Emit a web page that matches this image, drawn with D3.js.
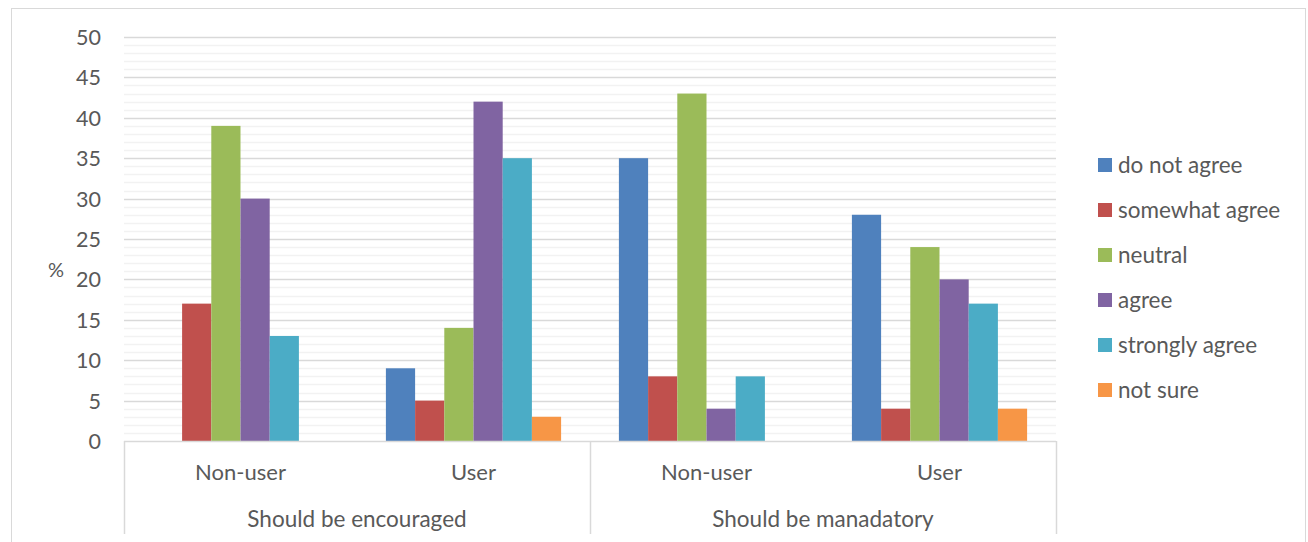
<!DOCTYPE html>
<html><head><meta charset="utf-8">
<script src="https://cdn.jsdelivr.net/npm/d3@7"></script>
<style>body{margin:0;background:#fff}svg{display:block}text{font-family:Lato,"Open Sans",sans-serif;fill:#595959}</style>
</head><body><svg id="c" width="1308" height="542"></svg>
<script>
const groups = ["Should be encouraged", "Should be manadatory"];
const subcats = ["Non-user", "User"];
const series = ["do not agree", "somewhat agree", "neutral", "agree", "strongly agree", "not sure"];
const colors = ["#4F81BD", "#C0504D", "#9BBB59", "#8064A2", "#4BACC6", "#F79646"];
const encNonUser = [0, 17, 39, 30, 13, 0];
const encUser = [9, 5, 14, 42, 35, 3];
const manNonUser = [35, 8, 43, 4, 8, 0];
const manUser = [28, 4, 24, 20, 17, 4];
const yTicks = [0, 5, 10, 15, 20, 25, 30, 35, 40, 45, 50];

const cats = [
  {g: groups[0], s: subcats[0], v: encNonUser},
  {g: groups[0], s: subcats[1], v: encUser},
  {g: groups[1], s: subcats[0], v: manNonUser},
  {g: groups[1], s: subcats[1], v: manUser}
];
const svg = d3.select("#c");
const L = 124, R = 1056, T = 37, B = 441;
svg.append("rect").attr("x", 11.5).attr("y", 8.5).attr("width", 1294).attr("height", 540)
  .attr("fill", "none").attr("stroke", "#d9d9d9");

const y = d3.scaleLinear().domain([0, 50]).range([B, T]);
const x0 = d3.scaleBand().domain(d3.range(cats.length)).range([L, R]).paddingInner(0).paddingOuter(0);
// minor grid
const minor = d3.range(1, 51).filter(d => d % 5 !== 0);
svg.append("g").selectAll("line").data(minor).join("line")
  .attr("x1", L).attr("x2", R).attr("y1", d => Math.round(y(d)) + 0.5).attr("y2", d => Math.round(y(d)) + 0.5)
  .attr("stroke", "#f2f2f2").attr("stroke-width", 1.5);
svg.append("g").selectAll("line").data(yTicks.slice(1)).join("line")
  .attr("x1", L).attr("x2", R).attr("y1", d => Math.round(y(d)) + 0.5).attr("y2", d => Math.round(y(d)) + 0.5)
  .attr("stroke", "#d9d9d9").attr("stroke-width", 1.5);

// y axis labels
const yAxis = d3.axisLeft(y).tickValues(yTicks).tickSize(0).tickPadding(0);
const ya = svg.append("g").attr("transform", `translate(101,0)`).call(yAxis);
ya.select(".domain").remove();
ya.selectAll("text").style("font-size", "21.5px").style("font-family", "Lato, sans-serif").attr("fill", "#595959").attr("dy", "0.35em");
svg.append("text").attr("x", 56).attr("y", 270).attr("text-anchor", "middle").attr("dy", "0.35em")
  .style("font-size", "20px").text("%");

// bars
const bw = x0.bandwidth();
const gap = bw - 6 * 29.2;
const xs = d3.scaleBand().domain(series).range([gap / 2, bw - gap / 2]).padding(0);
const cg = svg.append("g").selectAll("g").data(cats).join("g")
  .attr("transform", (d, i) => `translate(${x0(i)},0)`);
cg.selectAll("rect").data(d => d.v.map((v, k) => ({v, k}))).join("rect")
  .attr("x", d => xs(series[d.k])).attr("width", xs.bandwidth())
  .attr("y", d => y(d.v)).attr("height", d => B - y(d.v))
  .attr("fill", d => colors[d.k]);

// category axis
svg.append("line").attr("x1", L).attr("x2", R).attr("y1", B + 0.5).attr("y2", B + 0.5).attr("stroke", "#d9d9d9").attr("stroke-width", 1.5);
[L, (L + R) / 2, R].forEach(xx => svg.append("line").attr("x1", Math.round(xx) + 0.5).attr("x2", Math.round(xx) + 0.5)
  .attr("y1", B).attr("y2", 534).attr("stroke", "#d9d9d9").attr("stroke-width", 1.5));
cg.append("text").attr("x", bw / 2).attr("y", 472).attr("text-anchor", "middle").attr("dy", "0.35em")
  .style("font-size", "22px").text(d => d.s);
svg.append("g").selectAll("text").data(groups).join("text")
  .attr("x", (d, i) => (x0(i * 2) + x0(i * 2 + 1) + bw) / 2).attr("y", 519).attr("dy", "0.35em")
  .attr("text-anchor", "middle").style("font-size", "22.5px").text(d => d);

// legend
const lg = svg.append("g").selectAll("g").data(series).join("g")
  .attr("transform", (d, i) => `translate(1098,${165 + i * 45})`);
lg.append("rect").attr("x", 0).attr("y", -7).attr("width", 14).attr("height", 14).attr("fill", (d, i) => colors[i]);
lg.append("text").attr("x", 20).attr("dy", "0.35em").style("font-size", "22.5px").text(d => d);
</script></body></html>
